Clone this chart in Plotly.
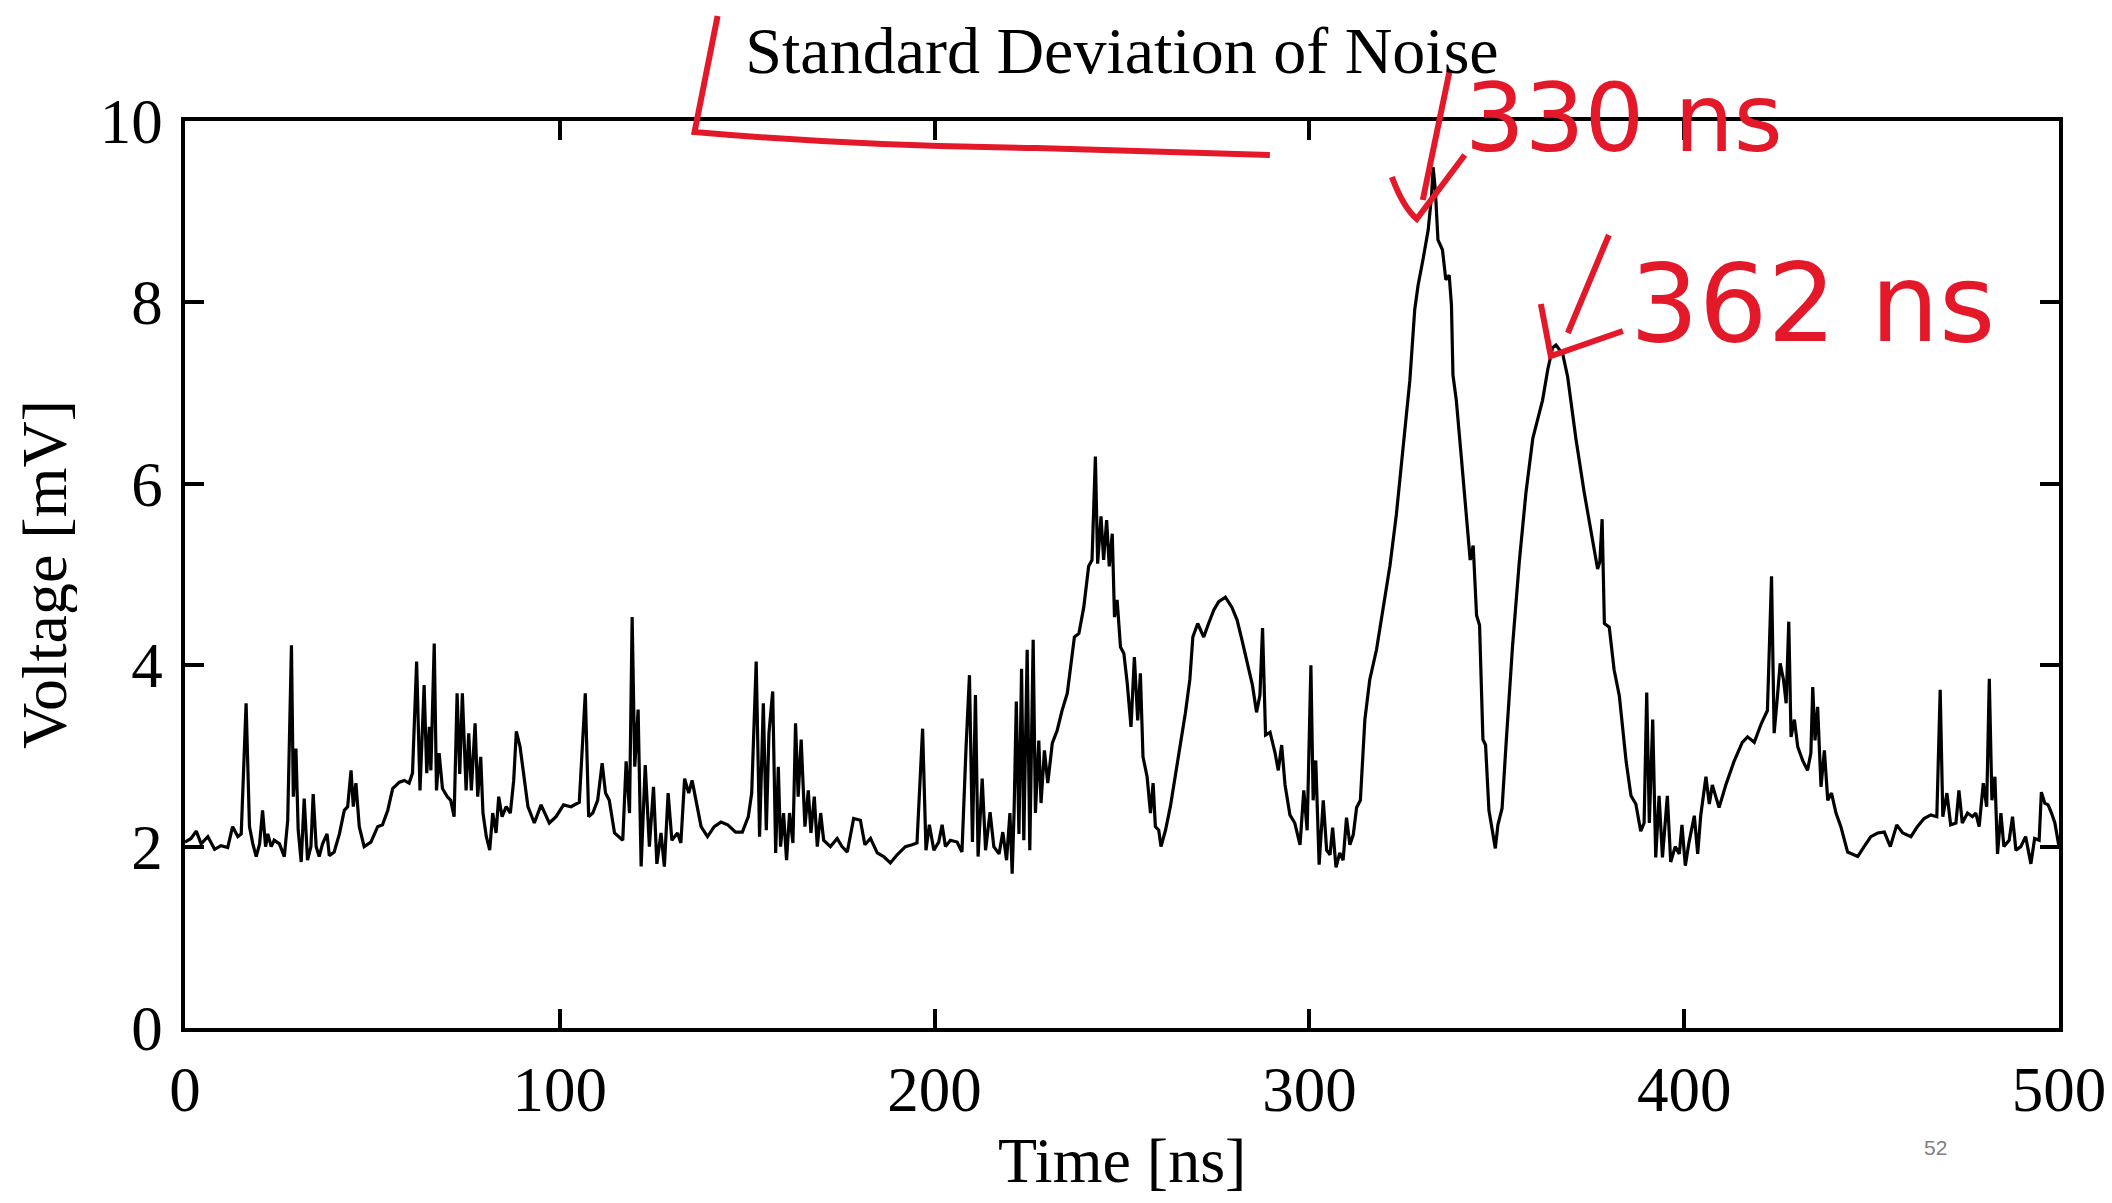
import plotly.graph_objects as go

# ---- data ----
time_ns = [
    0.0, 1.6, 3.0, 4.3, 6.1, 7.9, 9.6, 11.4, 12.7, 14.1, 15.0, 16.3, 17.2, 18.1, 19.0, 19.9,
    20.7, 21.5, 22.1, 23.0, 23.8, 25.2, 26.5, 27.4, 28.4, 28.9, 29.6, 30.2, 31.0, 31.8, 32.7,
    33.6, 34.2, 35.0, 35.8, 36.7, 37.9, 38.5, 39.8, 41.2, 42.5, 43.4, 44.3, 44.9, 45.6, 46.5,
    47.8, 49.6, 51.4, 52.7, 54.1, 55.4, 57.2, 58.5, 59.8, 60.7, 61.8, 62.7, 63.8, 64.5, 65.2,
    65.6, 66.5, 67.1, 67.8, 68.7, 70.0, 70.9, 71.8, 72.6, 73.3, 74.0, 75.0, 75.7, 76.4, 77.4,
    78.1, 78.9, 79.5, 80.4, 81.3, 82.1, 83.0, 83.7, 84.6, 85.7, 86.8, 87.7, 88.4, 89.4, 90.1,
    91.5, 93.2, 95.0, 97.2, 99.0, 101.0, 103.0, 105.2, 106.8, 107.7, 108.8, 110.1, 111.3,
    112.2, 113.2, 114.6, 116.8, 117.7, 118.6, 119.3, 120.0, 120.9, 121.7, 122.8, 123.9,
    125.0, 125.9, 127.0, 127.9, 128.9, 129.9, 131.4, 132.3, 133.3, 134.4, 135.3, 136.3,
    137.7, 139.4, 141.2, 143.0, 144.8, 146.9, 148.7, 150.3, 151.2, 152.4, 153.3, 154.3,
    155.1, 155.8, 156.8, 157.6, 158.3, 158.9, 159.7, 160.5, 161.3, 162.2, 162.9, 163.6,
    164.4, 165.4, 166.3, 167.0, 167.9, 168.7, 169.6, 170.4, 172.2, 174.0, 175.3, 176.7,
    178.4, 180.2, 181.4, 182.9, 184.7, 186.4, 188.2, 190.0, 192.2, 194.0, 195.3, 196.8,
    197.7, 198.6, 199.8, 201.1, 202.0, 202.9, 204.2, 206.0, 207.3, 208.4, 209.3, 210.1,
    210.9, 211.6, 212.7, 213.6, 214.8, 215.8, 217.2, 218.2, 219.2, 220.1, 220.7, 221.2,
    221.8, 222.5, 223.2, 223.8, 224.7, 225.4, 226.3, 226.9, 227.8, 228.4, 229.3, 230.2,
    231.4, 232.7, 234.0, 235.4, 236.3, 237.3, 238.5, 239.8, 241.1, 242.0, 242.9, 243.5,
    244.4, 245.1, 245.9, 246.6, 247.4, 248.0, 248.7, 249.6, 250.5, 251.4, 252.4, 253.3,
    254.2, 254.9, 255.6, 256.7, 257.6, 258.3, 258.9, 259.8, 260.4, 261.6, 262.9, 264.2,
    265.6, 266.9, 268.1, 268.9, 270.2, 271.8, 273.1, 274.5, 275.8, 277.6, 279.3, 280.7,
    282.0, 283.3, 284.8, 285.9, 286.8, 287.5, 288.3, 289.5, 290.8, 291.7, 292.6, 293.5,
    294.8, 296.1, 297.5, 298.5, 299.4, 300.4, 301.0, 301.7, 302.6, 303.7, 304.6, 305.5,
    306.2, 307.1, 308.1, 309.0, 309.9, 310.8, 311.7, 312.6, 313.6, 314.8, 316.1, 317.9,
    319.7, 321.5, 323.2, 325.0, 326.8, 328.1, 329.0, 330.3, 331.7, 332.6, 333.0, 333.6,
    334.3, 335.5, 336.4, 337.3, 337.9, 338.3, 339.2, 340.6, 341.9, 342.9, 343.7, 344.6,
    345.4, 346.3, 347.0, 347.9, 348.8, 349.6, 350.3, 351.4, 352.5, 354.2, 356.0, 357.8,
    359.6, 360.9, 362.2, 363.6, 364.9, 365.8, 367.6, 368.9, 371.1, 373.3, 375.6, 376.9,
    377.5, 378.1, 378.7, 380.0, 381.3, 382.7, 384.5, 385.8, 387.1, 388.4, 389.3, 390.0,
    390.7, 391.6, 392.4, 393.3, 394.2, 395.5, 396.4, 397.6, 398.7, 399.4, 400.3, 401.3,
    402.7, 403.6, 404.4, 405.8, 406.7, 407.5, 409.3, 411.1, 413.3, 415.5, 416.9, 418.7,
    420.6, 422.2, 423.3, 424.0, 424.8, 425.6, 426.5, 427.2, 427.9, 428.5, 429.4, 430.3,
    431.6, 432.9, 433.8, 434.3, 434.9, 435.6, 436.5, 437.4, 438.3, 439.3, 440.5, 441.8,
    443.6, 446.3, 448.0, 449.8, 451.6, 453.4, 455.0, 456.7, 458.3, 460.5, 462.2, 464.0,
    465.8, 467.4, 468.3, 469.0, 470.1, 471.1, 472.5, 473.3, 474.2, 475.6, 476.9, 477.8,
    478.7, 479.8, 480.7, 481.4, 482.1, 482.9, 483.6, 484.5, 485.3, 486.7, 487.6, 488.5,
    489.8, 491.1, 492.5, 493.5, 494.7, 495.3, 496.2, 497.1, 498.0, 498.9, 500.0,
]

voltage_mv = [
    2.05, 2.09, 2.17, 2.03, 2.11, 1.97, 2.01, 1.99, 2.22, 2.11, 2.14, 3.58, 2.22, 2.03, 1.89, 2.03,
    2.40, 2.00, 2.14, 2.00, 2.07, 2.03, 1.89, 2.29, 4.22, 2.55, 3.08, 2.18, 1.83, 2.53, 1.85,
    2.00, 2.58, 2.00, 1.89, 2.03, 2.14, 1.90, 1.94, 2.14, 2.40, 2.44, 2.84, 2.44, 2.70, 2.22,
    2.00, 2.05, 2.22, 2.24, 2.40, 2.64, 2.71, 2.73, 2.70, 2.81, 4.04, 2.62, 3.78, 2.81, 3.32,
    2.84, 4.24, 2.62, 3.03, 2.64, 2.55, 2.51, 2.33, 3.69, 2.80, 3.69, 2.62, 3.25, 2.62, 3.36,
    2.55, 2.99, 2.37, 2.11, 1.96, 2.37, 2.15, 2.55, 2.33, 2.44, 2.37, 2.73, 3.27, 3.10, 2.88,
    2.44, 2.26, 2.46, 2.26, 2.33, 2.46, 2.44, 2.49, 3.69, 2.33, 2.37, 2.51, 2.92,
    2.59, 2.51, 2.15, 2.07, 2.94, 2.37, 4.53, 2.88, 3.51, 1.78, 2.90, 2.00,
    2.66, 1.81, 2.15, 1.78, 2.59, 2.07, 2.15, 2.04, 2.75, 2.59, 2.73, 2.51,
    2.22, 2.11, 2.22, 2.27, 2.24, 2.16, 2.16, 2.33, 2.59, 4.04, 2.11, 3.58,
    2.18, 3.25, 3.71, 1.93, 2.88, 2.00, 2.37, 1.85, 2.37, 2.04, 3.36, 2.55,
    3.18, 2.22, 2.62, 2.15, 2.55, 2.00, 2.37, 2.07, 2.00, 2.09, 2.00, 1.94,
    2.31, 2.29, 2.02, 2.09, 1.93, 1.89, 1.82, 1.91, 2.00, 2.02, 2.04, 3.30,
    1.96, 2.24, 1.96, 2.05, 2.24, 2.00, 2.07, 2.05, 1.94, 3.10, 3.89, 2.05,
    3.67, 1.89, 2.75, 1.96, 2.38, 2.00, 1.92, 2.16, 1.85, 2.37, 1.70, 2.37,
    3.60, 2.14, 3.96, 2.07, 4.17, 1.96, 4.28, 2.37, 3.17, 2.48, 3.06, 2.70,
    3.14, 3.28, 3.50, 3.69, 3.98, 4.31, 4.35, 4.64, 5.09, 5.16, 6.30, 5.12,
    5.64, 5.16, 5.60, 5.09, 5.45, 4.53, 4.72, 4.20, 4.13, 3.80, 3.32, 4.09,
    3.39, 3.91, 2.99, 2.77, 2.37, 2.70, 2.22, 2.18, 2.00, 2.18, 2.44, 2.77,
    3.10, 3.47, 3.84, 4.31, 4.46, 4.31, 4.46, 4.61, 4.70, 4.75, 4.64, 4.50,
    4.28, 4.06, 3.78, 3.48, 3.67, 4.41, 3.23, 3.26, 3.04, 2.84, 3.12, 2.68,
    2.35, 2.26, 2.02, 2.62, 2.18, 4.00, 2.51, 2.95, 1.80, 2.51, 1.96, 1.91,
    2.21, 1.77, 1.93, 1.85, 2.32, 2.02, 2.13, 2.43, 2.51, 3.40, 3.84, 4.17,
    4.61, 5.10, 5.66, 6.37, 7.14, 7.92, 8.19, 8.47, 8.80, 9.18, 9.49, 9.24,
    8.69, 8.58, 8.25, 8.30, 7.97, 7.20, 6.92, 6.26, 5.60, 5.16, 5.32, 4.55,
    4.44, 3.18, 3.12, 2.40, 2.18, 1.98, 2.24, 2.42, 3.15, 4.21, 5.14, 5.91,
    6.50, 6.71, 6.92, 7.26, 7.50, 7.53, 7.43, 7.18, 6.50, 5.91, 5.35, 5.06,
    5.14, 5.61, 4.46, 4.42, 3.95, 3.66, 2.94, 2.56, 2.47, 2.17, 2.26, 3.70,
    2.26, 3.40, 1.88, 2.56, 1.88, 2.56, 1.83, 2.00, 1.92, 2.24, 1.79, 2.05,
    2.34, 1.92, 2.34, 2.77, 2.47, 2.68, 2.43, 2.68, 2.94, 3.15, 3.21, 3.15,
    3.36, 3.50, 4.98, 3.25, 3.62, 4.02, 3.84, 3.58, 4.48, 3.21, 3.40, 3.10,
    2.95, 2.84, 3.03, 3.76, 3.17, 3.54, 2.66, 3.06, 2.51, 2.59, 2.37, 2.22,
    1.94, 1.89, 2.00, 2.11, 2.15, 2.16, 2.00, 2.24, 2.15, 2.11, 2.22, 2.31,
    2.35, 2.33, 3.73, 2.33, 2.59, 2.24, 2.26, 2.62, 2.26, 2.37, 2.33, 2.37,
    2.22, 2.70, 2.44, 3.85, 2.51, 2.77, 1.92, 2.37, 2.00, 2.07, 2.33, 1.96,
    2.00, 2.11, 1.81, 2.09, 2.07, 2.60, 2.48, 2.46, 2.37, 2.26, 2.00,
]

x_ticks = [0, 100, 200, 300, 400, 500]
y_ticks = [0, 2, 4, 6, 8, 10]

title_text = "Standard Deviation of Noise"
x_title = "Time [ns]"
y_title = "Voltage [mV]"
note_330 = "330 ns"
note_362 = "362 ns"
page_no = "52"

RED = "#E3192A"
SERIF = "Liberation Serif, Times New Roman, serif"

fig = go.Figure()
fig.add_trace(go.Scatter(
    x=time_ns, y=voltage_mv, mode="lines",
    line=dict(color="black", width=3.2),
    showlegend=False, hoverinfo="skip",
))

axis_common = dict(
    showline=True, linecolor="black", linewidth=3.5, mirror="ticks",
    ticks="inside", ticklen=19, tickwidth=3.5, tickcolor="black",
    showgrid=False, zeroline=False, automargin=False,
    tickfont=dict(family=SERIF, size=63, color="black"),
)

fig.update_xaxes(range=[0, 500], tickvals=x_ticks, ticktext=[str(t) for t in x_ticks],
                 ticklabelstandoff=4, **axis_common)
fig.update_yaxes(range=[0, 10], tickvals=y_ticks, ticktext=[str(t) for t in y_ticks],
                 ticklabelstandoff=6, **axis_common)

# the page body adds an 8 px offset; the figure is sized so the plot area
# lands at x 185..2059 and y 121..1028 in the window
fig.update_layout(
    width=2104, height=1195,
    margin=dict(l=177, r=53, t=113, b=175),
    paper_bgcolor="white", plot_bgcolor="white",
    title=dict(text=title_text, x=0.5, xref="paper", xanchor="center",
               y=1 - 42 / 1195, yanchor="middle",
               font=dict(family=SERIF, size=66, color="black")),
)

# axis titles
fig.add_annotation(x=0.5, y=-0.1466, xref="paper", yref="paper", text=x_title,
                   showarrow=False, xanchor="center", yanchor="middle",
                   font=dict(family=SERIF, size=64, color="black"))
fig.add_annotation(x=-0.0755, y=0.5, xref="paper", yref="paper", text=y_title,
                   showarrow=False, textangle=-90, xanchor="center", yanchor="middle",
                   height=66, borderpad=0,
                   font=dict(family=SERIF, size=64, color="black"))

red_line = dict(color=RED, width=6)
# bracket-like stroke under the title
fig.add_shape(type="path", xref="paper", yref="paper",
              path="M 0.2842 1.1158 L 0.2719 0.9879 Q 0.36 0.972 0.4545 0.9702 L 0.5789 0.9625",
              line=red_line)
# arrow to the first peak
fig.add_shape(type="path", xref="paper", yref="paper",
              path="M 0.6749 1.0562 L 0.6605 0.9129", line=red_line)
fig.add_shape(type="path", xref="paper", yref="paper",
              path="M 0.6440 0.9383 Q 0.650 0.905 0.6573 0.8920 L 0.6829 0.9625", line=red_line)
# arrow to the second peak
fig.add_shape(type="path", xref="paper", yref="paper",
              path="M 0.7598 0.8743 L 0.7379 0.7663", line=red_line)
fig.add_shape(type="path", xref="paper", yref="paper",
              path="M 0.7235 0.7982 L 0.7288 0.7409 L 0.7673 0.7685", line=red_line)

fig.add_annotation(x=0.7680, y=1.0033, xref="paper", yref="paper", text=note_330,
                   showarrow=False, xanchor="center", yanchor="middle",
                   font=dict(family="DejaVu Sans", size=94, color=RED))
fig.add_annotation(x=0.8682, y=0.7993, xref="paper", yref="paper", text=note_362,
                   showarrow=False, xanchor="center", yanchor="middle",
                   font=dict(family="DejaVu Sans", size=108, color=RED))

fig.add_annotation(x=0.9412, y=-0.1466, xref="paper", yref="paper",
                   text=page_no, showarrow=False,
                   font=dict(family="Liberation Sans Narrow, Liberation Sans", size=21, color="#808080"))

fig.write_html("out.html")
